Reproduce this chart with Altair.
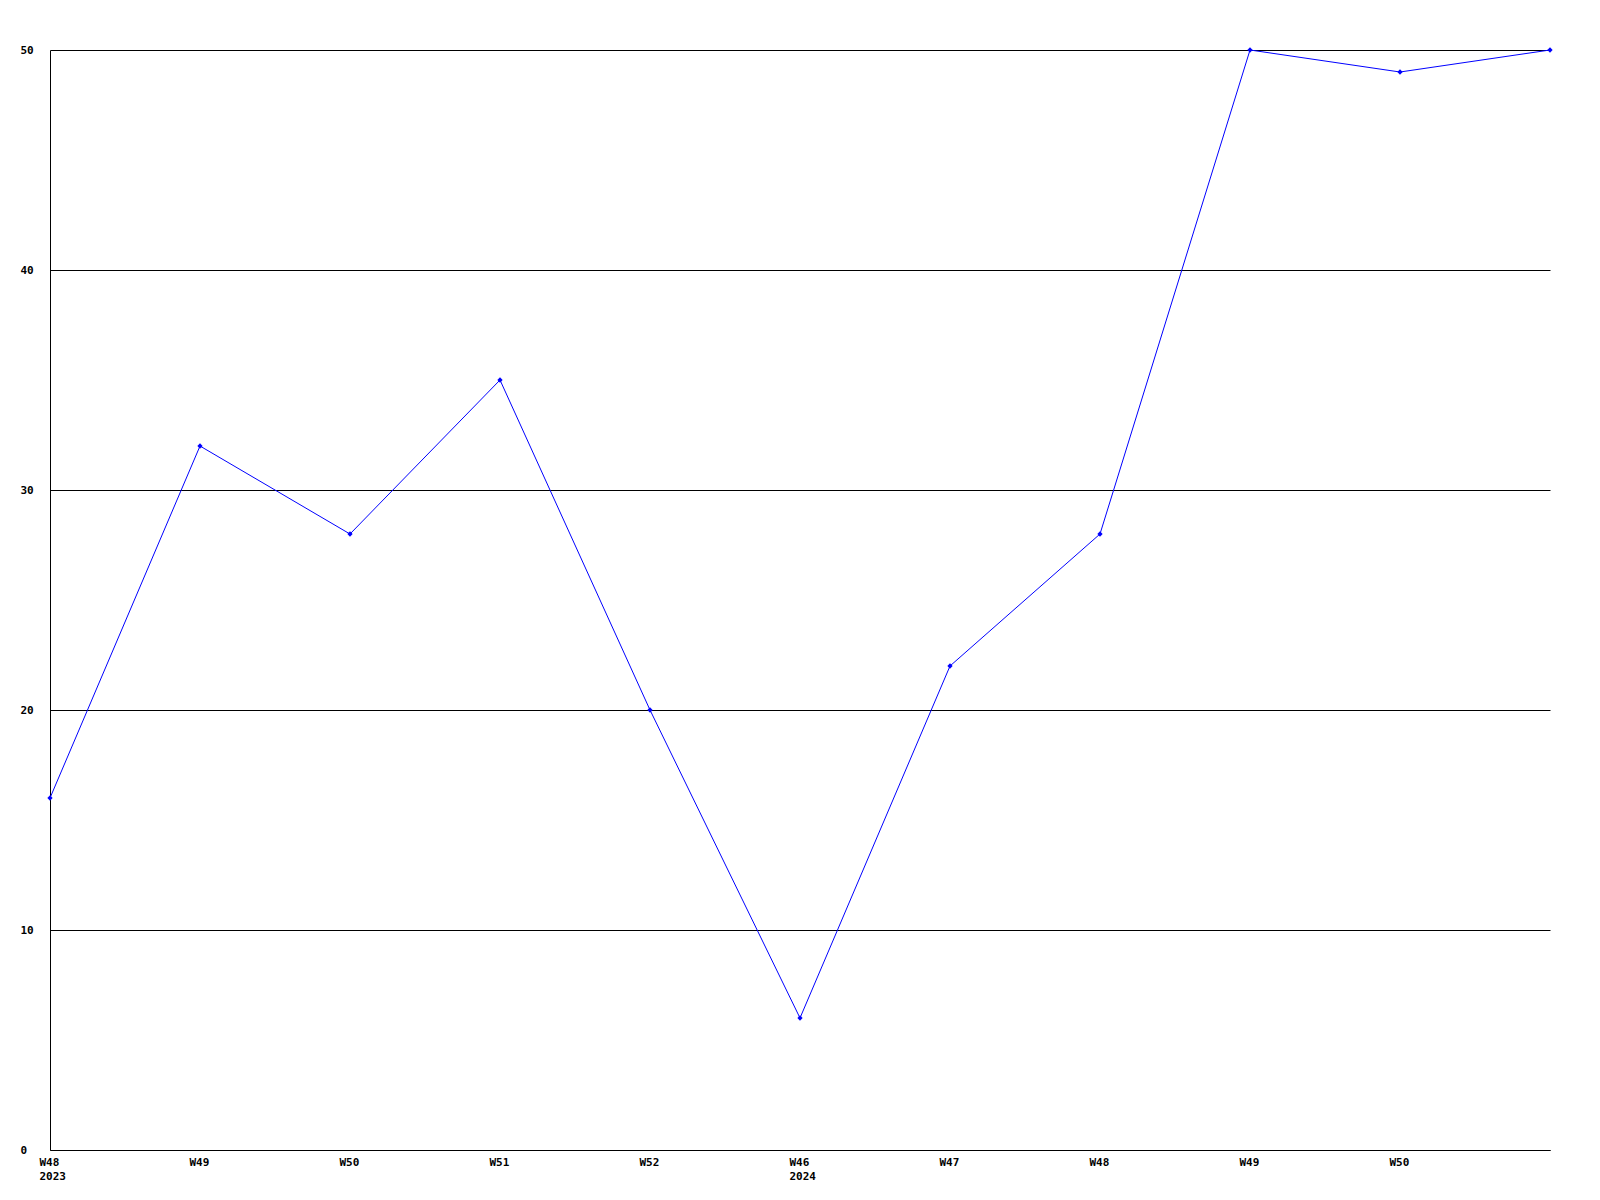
import altair as alt
import pandas as pd
import json

weeks = ["W48", "W49", "W50", "W51", "W52", "W46", "W47", "W48", "W49", "W50", ""]
years = ["2023", "", "", "", "", "2024", "", "", "", "", ""]
values = [16, 32, 28, 35, 20, 6, 22, 28, 50, 49, 50]
y_ticks = [0, 10, 20, 30, 40, 50]

df = pd.DataFrame({"idx": list(range(len(values))), "value": values})

wk_js = json.dumps(weeks)
yr_js = json.dumps(years)
label_expr = f"[{wk_js}[datum.value], {yr_js}[datum.value]]"

FONT = "DejaVu Sans Mono"

x_enc = alt.X(
    "idx:Q",
    scale=alt.Scale(domain=[0, len(values) - 1], nice=False, zero=False),
    axis=alt.Axis(
        values=list(range(len(values) - 1)),
        labelExpr=label_expr,
        title=None,
        grid=False,
        ticks=False,
        tickSize=0,
        labelPadding=6,
        labelBaseline="top",
        labelAlign="left",
        labelOffset=-11,
        labelLineHeight=14,
        labelFont=FONT,
        labelFontSize=11,
        labelFontWeight="bold",
        labelColor="#000000",
        domainColor="#000000",
        domainWidth=1,
        labelFlush=False,
        labelOverlap=False,
    ),
)
y_enc = alt.Y(
    "value:Q",
    scale=alt.Scale(domain=[0, 50], nice=False),
    axis=alt.Axis(
        values=y_ticks,
        title=None,
        grid=True,
        gridColor="#000000",
        gridOpacity=1,
        gridWidth=1,
        ticks=False,
        tickSize=0,
        labelAlign="left",
        labelPadding=30,
        labelBaseline="middle",
        labelFont=FONT,
        labelFontSize=11,
        labelFontWeight="bold",
        labelColor="#000000",
        domainColor="#000000",
        domainWidth=1,
        labelFlush=False,
        labelOverlap=False,
    ),
)

line = alt.Chart(df).mark_line(color="#0000ff", strokeWidth=1).encode(x=x_enc, y=y_enc)
pts = alt.Chart(df).mark_point(shape="diamond", filled=True, color="#0000ff", size=28, opacity=1).encode(
    x=x_enc, y=y_enc
)

chart = (
    alt.layer(line, pts)
    .properties(
        width=1500,
        height=1100,
        background="#ffffff",
        autosize=alt.AutoSizeParams(type="none"),
        padding={"left": 42, "top": 42, "right": 20, "bottom": 40},
    )
    .configure_view(stroke="transparent", strokeWidth=0)
)

chart.save("out.html", embed_options={"renderer": "svg", "actions": False})
